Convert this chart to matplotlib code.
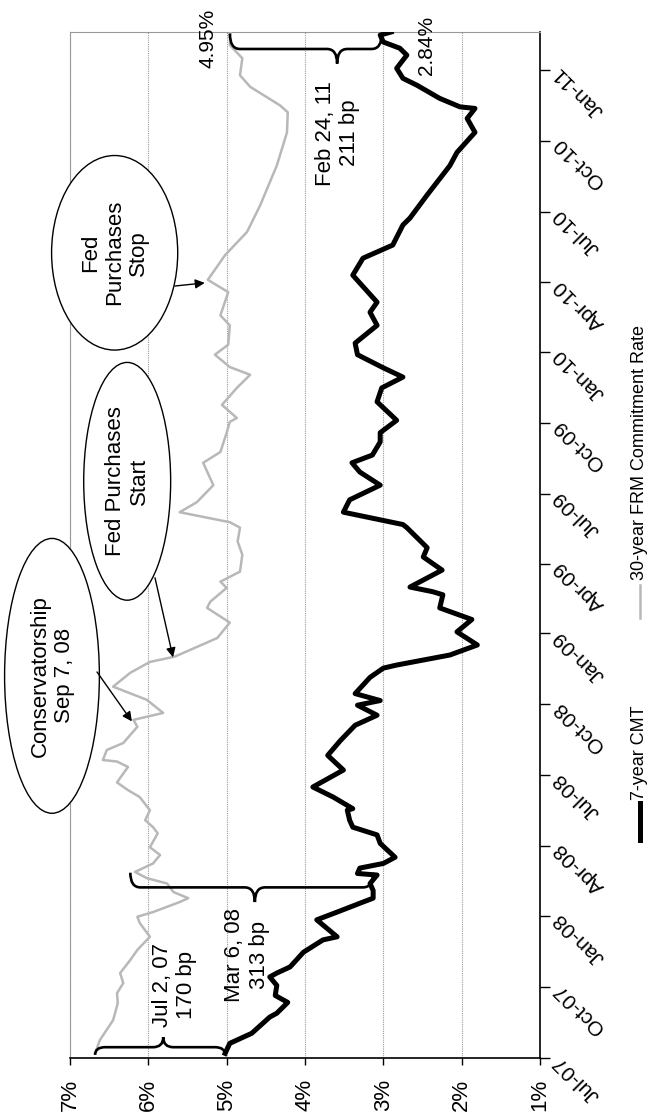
import numpy as np
import pandas as pd
import matplotlib
matplotlib.use('Agg')
import matplotlib.pyplot as plt
import matplotlib.dates as mdates
from matplotlib.patches import Ellipse, PathPatch
from matplotlib.path import Path
from matplotlib.lines import Line2D

plt.rcParams['font.family'] = ['Liberation Sans', 'DejaVu Sans']

# 7-year CMT
cmt_dates = ['2007-07-07', '2007-07-20', '2007-08-02', '2007-08-23', '2007-08-28', '2007-09-11',
             '2007-09-20', '2007-10-03', '2007-10-14', '2007-10-19', '2007-10-27', '2007-11-15',
             '2007-12-01', '2007-12-05', '2007-12-27', '2008-01-06', '2008-01-19', '2008-01-24',
             '2008-02-03', '2008-02-12', '2008-02-23', '2008-02-25', '2008-03-03', '2008-03-09',
             '2008-03-17', '2008-04-04', '2008-04-15', '2008-04-25', '2008-05-04', '2008-05-17',
             '2008-05-19', '2008-06-03', '2008-06-16', '2008-07-08', '2008-07-27', '2008-08-15',
             '2008-09-04', '2008-09-17', '2008-09-30', '2008-10-06', '2008-10-15', '2008-11-05',
             '2008-11-17', '2008-11-21', '2008-12-04', '2008-12-17', '2009-01-03', '2009-01-19',
             '2009-02-03', '2009-02-20', '2009-02-24', '2009-03-02', '2009-03-24', '2009-04-10',
             '2009-04-22', '2009-05-18', '2009-05-22', '2009-06-07', '2009-06-23', '2009-07-12',
             '2009-07-29', '2009-08-10', '2009-08-20', '2009-09-06', '2009-09-18', '2009-10-04',
             '2009-10-28', '2009-11-15', '2009-11-29', '2009-12-11', '2009-12-28', '2010-01-12',
             '2010-02-04', '2010-02-21', '2010-03-06', '2010-04-10', '2010-05-02', '2010-05-19',
             '2010-06-14', '2010-06-23', '2010-07-23', '2010-08-30', '2010-09-16', '2010-10-12',
             '2010-10-30', '2010-11-12', '2010-11-14', '2010-11-25', '2010-12-12', '2010-12-21',
             '2011-01-03', '2011-01-20', '2011-01-29', '2011-02-06', '2011-02-15', '2011-02-19']
cmt_vals = [5.02, 4.96, 4.68, 4.45, 4.36, 4.22,
            4.38, 4.36, 4.45, 4.36, 4.19, 4.02,
            3.77, 3.59, 3.85, 3.59, 3.26, 3.13,
            3.13, 3.17, 3.08, 3.33, 3.30, 3.00,
            2.85, 3.04, 3.08, 3.39, 3.43, 3.46,
            3.39, 3.64, 3.90, 3.51, 3.71, 3.55,
            3.36, 3.08, 3.33, 3.04, 3.36, 3.17,
            3.00, 2.83, 2.15, 1.80, 2.06, 1.87,
            2.28, 2.24, 2.37, 2.66, 2.25, 2.49,
            2.44, 2.70, 2.75, 3.51, 3.43, 3.04,
            3.30, 3.40, 3.14, 3.04, 3.04, 2.83,
            3.08, 3.02, 2.75, 3.00, 3.33, 3.36,
            3.08, 3.17, 3.08, 3.39, 3.26, 2.88,
            2.75, 2.66, 2.44, 2.15, 2.06, 1.83,
            1.93, 1.83, 2.02, 2.28, 2.57, 2.75,
            2.83, 2.70, 2.79, 3.00, 3.04, 2.90]

# 30-year FRM commitment rate
frm_dates = ['2007-07-07', '2007-07-24', '2007-08-19', '2007-09-10', '2007-09-23', '2007-10-06',
             '2007-10-19', '2007-11-05', '2007-11-18', '2007-12-05', '2007-12-23', '2007-12-31',
             '2008-01-06', '2008-01-19', '2008-01-24', '2008-02-01', '2008-02-12', '2008-02-19',
             '2008-02-27', '2008-03-09', '2008-03-20', '2008-03-30', '2008-04-17', '2008-04-25',
             '2008-05-04', '2008-05-17', '2008-06-03', '2008-06-12', '2008-06-22', '2008-07-12',
             '2008-07-19', '2008-07-21', '2008-08-03', '2008-08-12', '2008-09-02', '2008-09-11',
             '2008-09-20', '2008-10-07', '2008-10-24', '2008-11-11', '2008-11-25', '2008-12-02',
             '2008-12-26', '2009-01-15', '2009-02-03', '2009-02-11', '2009-03-01', '2009-03-09',
             '2009-03-22', '2009-04-13', '2009-04-30', '2009-05-18', '2009-05-25', '2009-06-07',
             '2009-06-20', '2009-07-12', '2009-08-10', '2009-08-24', '2009-09-18', '2009-10-02',
             '2009-10-07', '2009-10-24', '2009-11-15', '2009-12-02', '2009-12-12', '2009-12-28',
             '2010-01-10', '2010-02-04', '2010-02-17', '2010-03-19', '2010-04-04', '2010-05-06',
             '2010-06-05', '2010-07-10', '2010-08-30', '2010-10-12', '2010-11-07', '2010-11-16',
             '2010-12-10', '2010-12-25', '2011-01-16', '2011-02-02', '2011-02-19']
frm_vals = [6.68, 6.62, 6.45, 6.39, 6.40, 6.32,
            6.36, 6.23, 6.14, 5.98, 6.11, 6.14,
            5.94, 5.60, 5.49, 5.68, 5.76, 6.02,
            6.17, 5.94, 5.85, 5.98, 5.88, 5.94,
            6.04, 5.98, 6.11, 6.26, 6.40, 6.26,
            6.40, 6.58, 6.53, 6.32, 6.14, 6.19,
            5.81, 6.02, 6.45, 6.23, 5.98, 5.66,
            5.12, 4.96, 5.25, 5.21, 5.00, 5.08,
            4.83, 4.80, 4.86, 4.83, 4.96, 5.60,
            5.38, 5.17, 5.30, 5.08, 5.00, 4.96,
            4.87, 5.06, 4.87, 4.70, 4.96, 5.15,
            4.98, 4.96, 5.08, 4.98, 5.24, 5.02,
            4.74, 4.57, 4.36, 4.23, 4.22, 4.32,
            4.70, 4.83, 4.80, 4.96, 4.95]

pct_ticks = [7, 6, 5, 4, 3, 2, 1]
pct_labels = [f'{p}%' for p in pct_ticks]
quarter_ticks = pd.date_range('2007-07-01', '2011-01-01', freq='QS-JAN')
quarter_labels = [d.strftime('%b-%y') for d in quarter_ticks]

cmt_d = mdates.date2num(pd.to_datetime(cmt_dates))
frm_d = mdates.date2num(pd.to_datetime(frm_dates))


def dn(s):
    return mdates.date2num(pd.Timestamp(s))


def brace(ax, x0, x1, xtip, y, hook, tip, r=0.13):
    s = np.sign(x1 - x0) * r
    verts = [(x0, y + hook), (x0, y), (x0 + s, y),
             (xtip - s, y), (xtip, y), (xtip, y + tip),
             (xtip, y), (xtip + s, y),
             (x1 - s, y), (x1, y), (x1, y + hook)]
    codes = [Path.MOVETO, Path.CURVE3, Path.CURVE3,
             Path.LINETO, Path.CURVE3, Path.CURVE3,
             Path.CURVE3, Path.CURVE3,
             Path.LINETO, Path.CURVE3, Path.CURVE3]
    ax.add_patch(PathPatch(Path(verts, codes), fill=False, lw=1.9,
                           edgecolor='black', clip_on=False, zorder=5))


fig = plt.figure(figsize=(6.5, 11.18), dpi=100)
ax = fig.add_axes([70 / 650, 60 / 1118, 470 / 650, 1026 / 1118])

ax.plot(frm_vals, frm_d, color='#b8b8b8', lw=1.8, zorder=3)
ax.plot(cmt_vals, cmt_d, color='black', lw=3.6, solid_joinstyle='round', zorder=3)

ax.set_xlim(7, 1)
ax.set_ylim(dn('2007-07-01'), dn('2011-02-19'))

ax.set_xticks(pct_ticks, labels=pct_labels)
ax.tick_params(axis='x', direction='out', length=5, width=1, pad=10,
               labelsize=16, labelrotation=90)
ax.grid(axis='x', color='#999999', lw=0.8, ls=(0, (1, 1)))
ax.grid(axis='y', visible=False)

ax.yaxis.tick_right()
ax.set_yticks(mdates.date2num(quarter_ticks), labels=quarter_labels)
ax.tick_params(axis='y', direction='out', length=7, width=1, pad=5, labelsize=15)
for t in ax.yaxis.get_major_ticks():
    t.label2.set_rotation(135)
    t.label2.set_ha('right')
    t.label2.set_va('center')
    t.label2.set_rotation_mode('anchor')

for side in ['left', 'top']:
    ax.spines[side].set_color('#999999')
    ax.spines[side].set_linewidth(0.8)
for side in ['right', 'bottom']:
    ax.spines[side].set_color('black')
    ax.spines[side].set_linewidth(1.2)

# callout ellipses
ellipses = [((7.23, dn('2008-11-07')), 1.21, 356, 'Conservatorship\nSep 7, 08'),
            ((6.27, dn('2009-07-17')), 1.11, 308, 'Fed Purchases\nStart'),
            ((6.43, dn('2010-05-09')), 1.61, 252, 'Fed\nPurchases\nStop')]
for (cx, cy), w, h, txt in ellipses:
    ax.add_patch(Ellipse((cx, cy), w, h, facecolor='white', edgecolor='black',
                         lw=1.0, clip_on=False, zorder=4))
    ax.text(cx, cy, txt, rotation=90, ha='center', va='center',
            multialignment='center', fontsize=16, zorder=6)

arrows = [((6.21, dn('2008-09-09')), (6.655, dn('2008-11-12'))),
          ((5.685, dn('2008-12-01')), (5.915, dn('2009-03-14'))),
          ((5.28, dn('2010-03-31')), (5.66, dn('2010-03-27')))]
for tip, start in arrows:
    ax.annotate('', xy=tip, xytext=start,
                arrowprops=dict(arrowstyle='-|>', color='black', lw=1.0,
                                mutation_scale=14, shrinkA=0, shrinkB=0),
                zorder=6, annotation_clip=False)

# spread braces
brace(ax, 6.68, 5.02, 5.81, dn('2007-07-15'), -10, 13)
brace(ax, 6.23, 3.13, 4.64, dn('2008-02-07'), 19, -19)
brace(ax, 4.96, 3.02, 3.59, dn('2011-01-28'), 20, -19)

ax.text(5.67, dn('2007-10-03'), 'Jul 2, 07\n170 bp', rotation=90, ha='center',
        va='center', multialignment='center', fontsize=16)
ax.text(4.74, dn('2007-11-11'), 'Mar 6, 08\n313 bp', rotation=90, ha='center',
        va='center', multialignment='center', fontsize=16)
ax.text(3.58, dn('2010-10-11'), 'Feb 24, 11\n211 bp', rotation=90, ha='center',
        va='center', multialignment='center', fontsize=16)
ax.text(5.24, dn('2011-02-11'), '4.95%', rotation=90, ha='center', va='center',
        fontsize=15, clip_on=False)
ax.text(2.455, dn('2011-02-01'), '2.84%', rotation=90, ha='center', va='center',
        fontsize=15, clip_on=False)

# legend, drawn rotated like the rest of the chart
lx = 640 / 650
fig.add_artist(Line2D([lx, lx], [1 - 840 / 1118, 1 - 803 / 1118], color='black', lw=3.6))
fig.text(lx, 1 - 800 / 1118, '7-year CMT', rotation=90, ha='center', va='bottom', fontsize=13)
fig.add_artist(Line2D([lx, lx], [1 - 618 / 1118, 1 - 585 / 1118], color='#b8b8b8', lw=1.8))
fig.text(lx, 1 - 580 / 1118, '30-year FRM Commitment Rate', rotation=90, ha='center',
         va='bottom', fontsize=13)

fig.savefig('out.png', dpi=100)
